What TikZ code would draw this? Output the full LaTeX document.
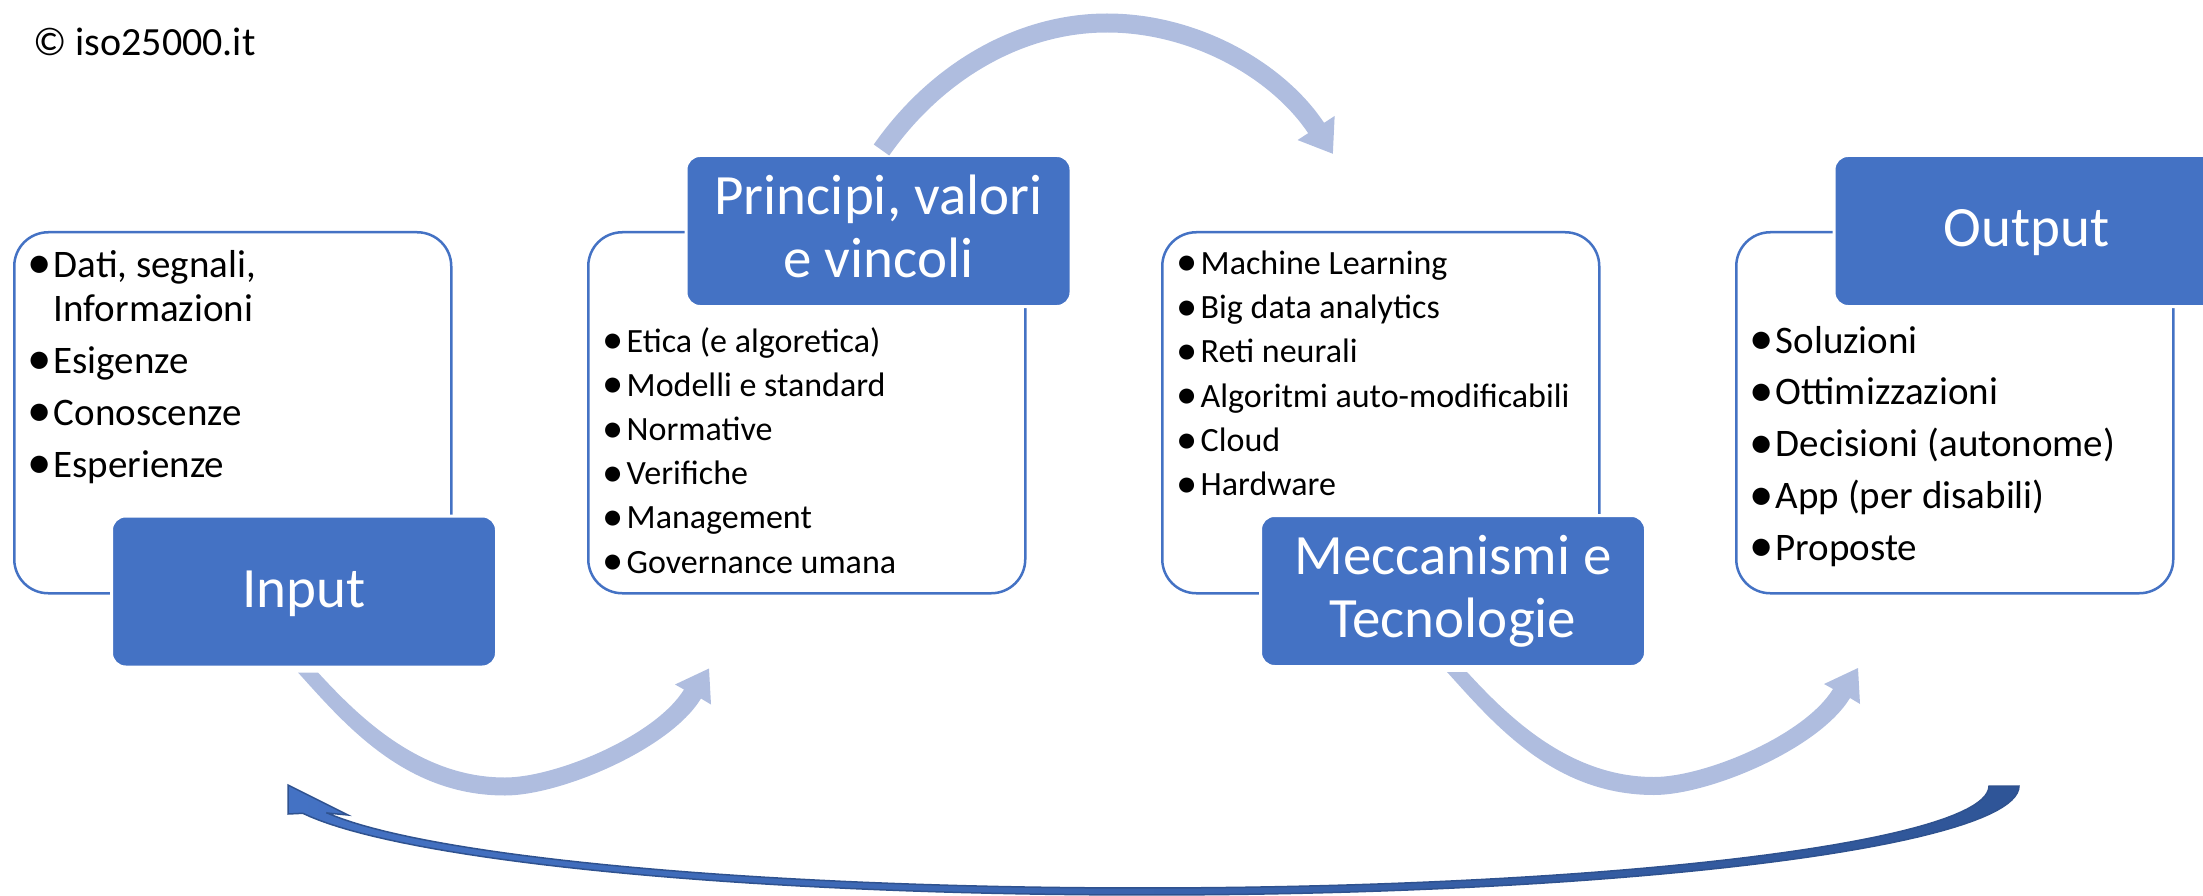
\documentclass[tikz,border=0pt]{standalone}
\usepackage{fontspec}
\usepackage{graphicx}
\setmainfont{Carlito}
\usetikzlibrary{arrows.meta,calc}
\definecolor{accent}{HTML}{4472C4}
\definecolor{pale}{HTML}{AFBDDF}
\definecolor{darkblue}{HTML}{2F5597}
\definecolor{darkline}{HTML}{2F528F}
\newcommand{\bul}{\makebox[20pt][c]{\hspace{4pt}\raisebox{-0.05em}{\scalebox{1.25}{\textbullet}}}}
\newcommand{\ushape}{(-6,4) .. controls (41,56) and (101,127) .. (201,127)
    .. controls (256,127) and (366,81) .. (397,30) -- (407,36) -- (405,0) -- (371,16) -- (380,21)
    .. controls (351,68) and (251,109) .. (201,109)
    .. controls (116,109) and (54.5,48) .. (14,4) -- cycle}
\tikzset{
  listbox/.style={draw=accent, line width=2.5pt, fill=white, rounded corners=34pt,
    minimum width=437pt, minimum height=361pt, inner sep=0pt, anchor=north west},
  titlebox/.style={fill=accent, draw=white, line width=3pt, rounded corners=14pt,
    text=white, minimum width=385pt, minimum height=151pt, inner sep=0pt,
    align=center, font=\fontsize{57pt}{63pt}\selectfont},
  oneline/.style={text height=38pt, text depth=6pt},
  listtext/.style={anchor=base west, inner sep=0pt, text=black},
  uarrow/.style={fill=pale, draw=none},
  toparrow/.style={draw=pale, line width=19pt, -{Triangle[width=42pt,length=31pt]}},
  backarrow/.style={draw=darkline, line width=1.5pt, left color=accent, right color=darkblue},
}
\begin{document}
\begin{tikzpicture}[x=1pt, y=-1pt]
\useasboundingbox (0,0) rectangle (2203,896);
\clip (0,0) rectangle (2203,896);

% copyright
\node[anchor=base west, inner sep=0pt] (copy) at (33,56)
  {\fontsize{40pt}{48pt}\selectfont © iso25000.it};

% list boxes
\node[listbox] (inbox)  at (13,231)   {};
\node[listbox] (prbox)  at (587,231)  {};
\node[listbox] (mebox)  at (1161,231) {};
\node[listbox] (outbox) at (1735,231) {};

% list texts
\node[listtext] (intext) at (27.5,277) {\fontsize{39pt}{44pt}\selectfont
  \begin{tabular}[t]{@{}l@{\hspace{6pt}}l@{}}
  \bul & Dati, segnali,\\
       & Informazioni\\[8pt]
  \bul & Esigenze\\[8pt]
  \bul & Conoscenze\\[8pt]
  \bul & Esperienze
  \end{tabular}};

\node[listtext] (prtext) at (600.5,352) {\fontsize{34pt}{44.2pt}\selectfont
  \begin{tabular}[t]{@{}l@{\hspace{6pt}}l@{}}
  \bul & Etica (e algoretica)\\
  \bul & Modelli e standard\\
  \bul & Normative\\
  \bul & Verifiche\\
  \bul & Management\\
  \bul & Governance umana
  \end{tabular}};

\node[listtext] (metext) at (1174.5,274) {\fontsize{34pt}{44.4pt}\selectfont
  \begin{tabular}[t]{@{}l@{\hspace{6pt}}l@{}}
  \bul & Machine Learning\\
  \bul & Big data analytics\\
  \bul & Reti neurali\\
  \bul & Algoritmi auto-modificabili\\
  \bul & Cloud\\
  \bul & Hardware
  \end{tabular}};

\node[listtext] (outtext) at (1749.5,353) {\fontsize{39pt}{44pt}\selectfont
  \begin{tabular}[t]{@{}l@{\hspace{6pt}}l@{}}
  \bul & Soluzioni\\[7.75pt]
  \bul & Ottimizzazioni\\[7.75pt]
  \bul & Decisioni (autonome)\\[7.75pt]
  \bul & App (per disabili)\\[7.75pt]
  \bul & Proposte
  \end{tabular}};

% title boxes
\node[titlebox, oneline] (inp)  at (304,591.5)  {Input};
\node[titlebox] (prin) at (878.5,231) {Principi, valori\\e vincoli\vphantom{g}};
\node[titlebox] (mecc) at (1453,591) {Meccanismi e\\Tecnologie};
\node[titlebox, oneline] (outp) at (2026.5,231) {Output};

% top arrow: Principi -> Meccanismi
\coordinate (ttail) at ($(prin.north)+(3,-4)$);
\coordinate (ttip) at (1333,154);
\draw[toparrow] (ttail) .. controls (936.6,71.3) and (1020,23) .. (1107,23)
  .. controls (1195.7,23) and (1279.4,71.5) .. (ttip);

% lower curved arrows (Input -> Principi, Meccanismi -> Output)
\begin{scope}[shift={(inp.south)}]
  \fill[uarrow] \ushape;
\end{scope}
\begin{scope}[shift={(mecc.south)}]
  \fill[uarrow] \ushape;
\end{scope}

% feedback arrow Output -> Input
\path[backarrow]
  plot[domain=0:165.5, samples=90] ({1147+872*cos(\x)},{786+109*sin(\x)})
  -- (288,814) -- (288,785) -- (348,815) -- (327,813)
  -- plot[domain=164.7:0, samples=90] ({1143+846*cos(\x)},{786+102*sin(\x)})
  -- cycle;
\end{tikzpicture}
\end{document}
